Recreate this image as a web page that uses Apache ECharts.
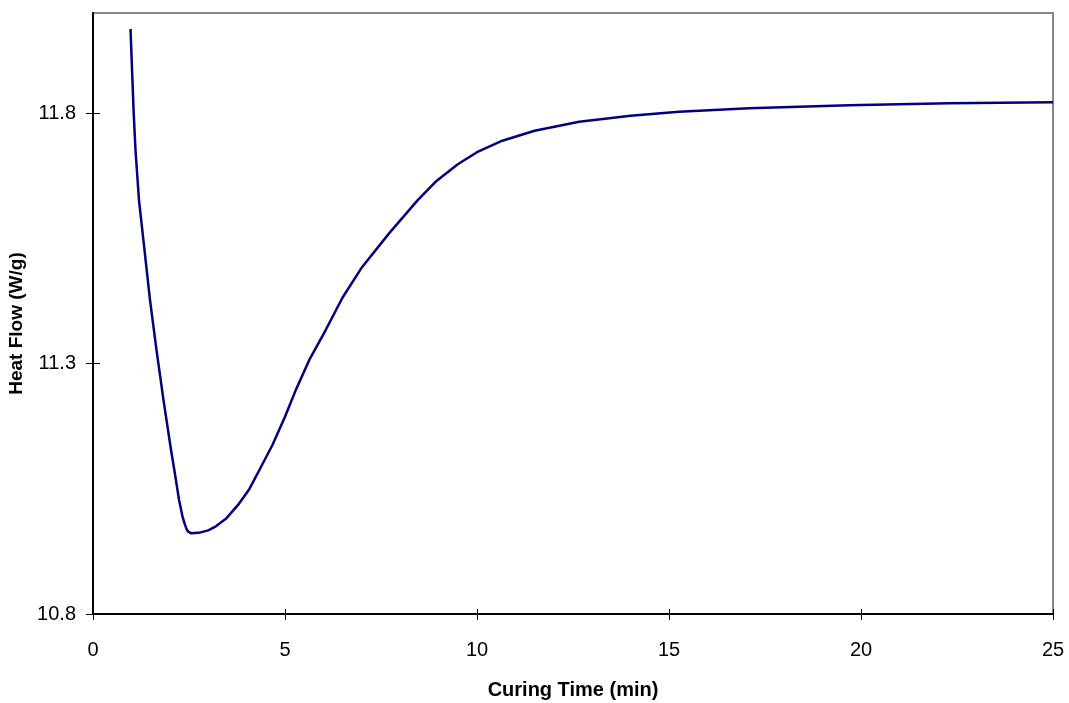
<!DOCTYPE html>
<html>
<head>
<meta charset="utf-8">
<title>Heat Flow vs Curing Time</title>
<script src="https://cdn.jsdelivr.net/npm/echarts@6/dist/echarts.min.js"></script>
<style>
  html, body { margin: 0; padding: 0; background: #fff; }
  #chart { width: 1069px; height: 703px; }
</style>
</head>
<body>
<div id="chart"></div>
<script>
// 读图估计的数据
var curingTime = [0.977, 1.02, 1.06, 1.107, 1.198, 1.341, 1.484, 1.654, 1.836, 2.031, 2.14, 2.24, 2.33, 2.396, 2.44, 2.47, 2.52, 2.56, 2.75, 3.0, 3.2, 3.46, 3.8, 4.06, 4.35, 4.67, 5.0, 5.28, 5.65, 6.06, 6.5, 7.01, 7.71, 8.45, 8.92, 9.5, 10.0, 10.66, 11.5, 12.66, 14.0, 15.26, 17.08, 19.69, 22.29, 25.0];
var heatFlow = [11.968, 11.88, 11.8, 11.726, 11.626, 11.527, 11.427, 11.327, 11.227, 11.128, 11.077, 11.028, 10.995, 10.978, 10.969, 10.965, 10.962, 10.961, 10.962, 10.967, 10.975, 10.99, 11.02, 11.048, 11.09, 11.137, 11.194, 11.247, 11.31, 11.367, 11.432, 11.493, 11.56, 11.626, 11.663, 11.698, 11.722, 11.745, 11.765, 11.783, 11.795, 11.803, 11.81, 11.816, 11.82, 11.822];
var yTicks = [10.8, 11.3, 11.8];

var points = [];
for (var i = 0; i < curingTime.length; i++) {
     points.push([curingTime[i], heatFlow[i]]);
}

var chart = echarts.init(document.getElementById('chart'));
var font = 'Liberation Sans, Arial, sans-serif';

var option = {
     animation: false,
     grid: {
          left: 93,
          right: 16,
          top: 13,
          bottom: 89,
          containLabel: false,
          outerBoundsMode: 'none',
          show: true,
          borderColor: '#888',
          borderWidth: 2
     },
     xAxis: [{
          type: 'value',
          min: 0,
          max: 25,
          interval: 5,
          name: 'Curing Time (min)',
          nameLocation: 'middle',
          nameGap: 66,
          nameTextStyle: { fontFamily: font, fontSize: 20, fontWeight: 'bold', color: '#000' },
          axisLine: { show: true, lineStyle: { color: '#000', width: 2 } },
          axisTick: { show: true, length: 6, lineStyle: { color: '#000' } },
          axisLabel: { margin: 26, fontFamily: font, fontSize: 20, color: '#000' },
          splitLine: { show: false }
     }, {
          type: 'value',
          position: 'bottom',
          min: 0,
          max: 25,
          interval: 5,
          axisLine: { show: false },
          axisTick: { show: true, inside: true, length: 5, lineStyle: { color: '#000' } },
          axisLabel: { show: false },
          splitLine: { show: false }
     }],
     yAxis: [{
          type: 'value',
          min: 10.8,
          max: 12.0,
          interval: 0.5,
          name: 'Heat Flow (W/g)',
          nameLocation: 'middle',
          nameGap: 65,
          nameTextStyle: { fontFamily: font, fontSize: 19, fontWeight: 'bold', color: '#000', padding: [0, 20, 0, 0] },
          axisLine: { show: true, lineStyle: { color: '#000', width: 2 } },
          axisTick: { show: true, length: 7, customValues: yTicks, lineStyle: { color: '#000' } },
          axisLabel: { margin: 17, customValues: yTicks, fontFamily: font, fontSize: 20, color: '#000',
               formatter: function (v) { return v.toFixed(1); } },
          splitLine: { show: false }
     }, {
          type: 'value',
          position: 'left',
          min: 10.8,
          max: 12.0,
          interval: 0.5,
          axisLine: { show: false },
          axisTick: { show: true, inside: true, length: 7, customValues: yTicks, lineStyle: { color: '#000' } },
          axisLabel: { show: false },
          splitLine: { show: false }
     }],
     series: [{
          type: 'line',
          data: points,
          xAxisIndex: 0,
          yAxisIndex: 0,
          showSymbol: false,
          smooth: false,
          lineStyle: { color: '#000080', width: 2.5, join: 'round' }
     }]
};

chart.setOption(option);
</script>
</body>
</html>
